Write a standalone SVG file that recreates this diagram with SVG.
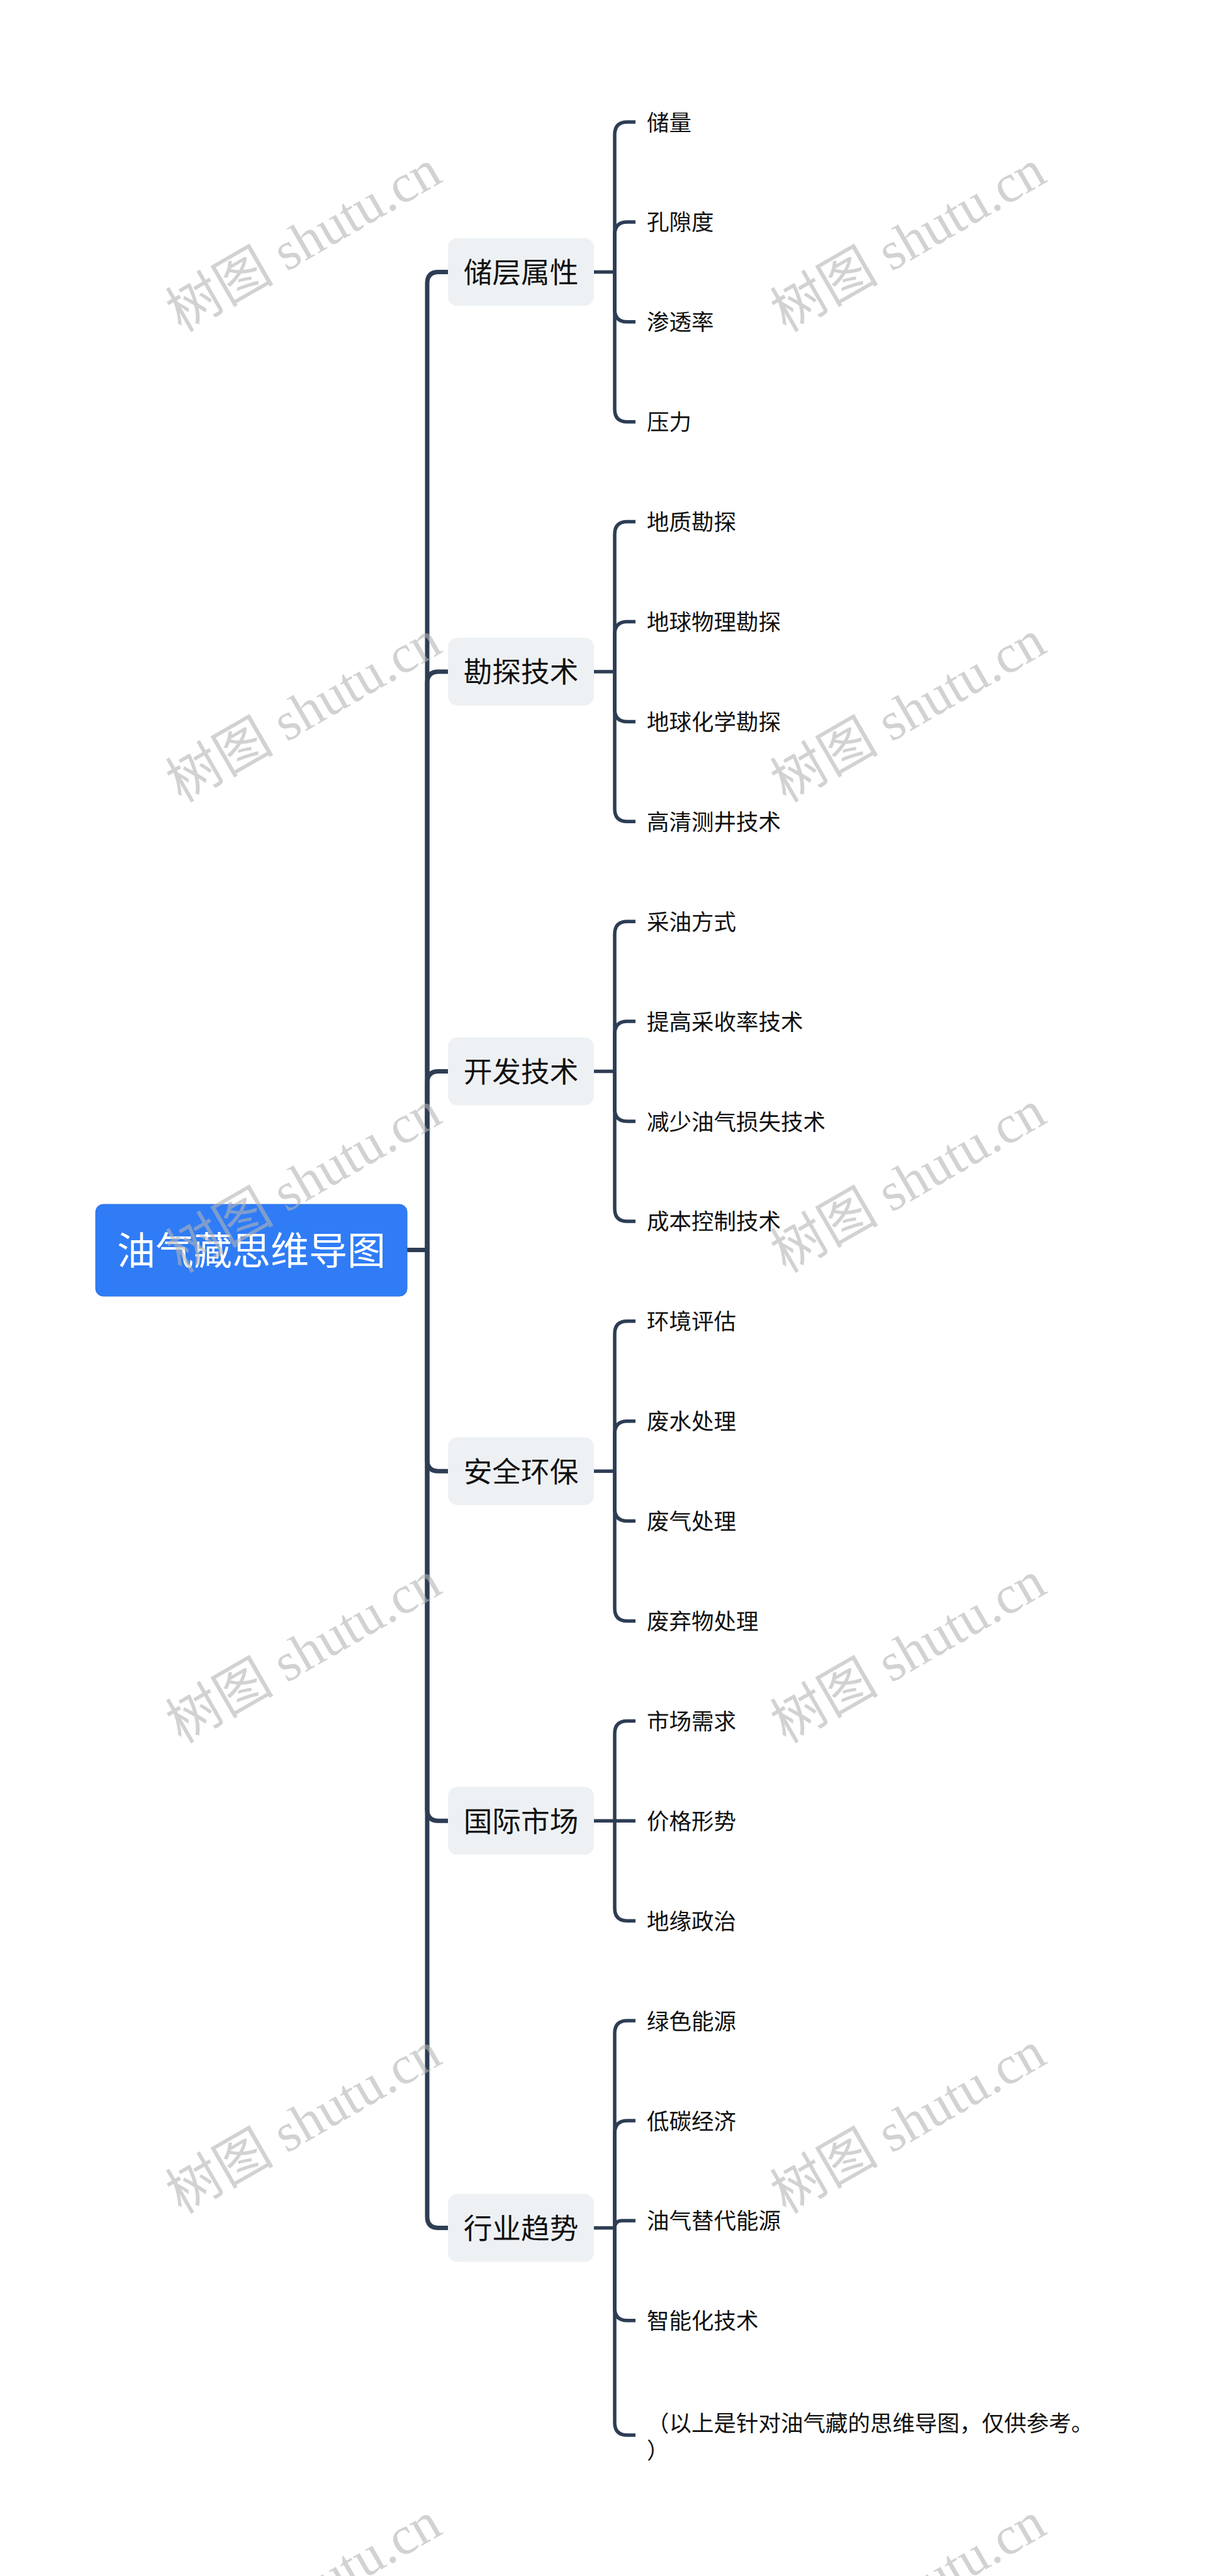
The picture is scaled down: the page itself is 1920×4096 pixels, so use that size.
<svg xmlns="http://www.w3.org/2000/svg" width="1920" height="4096" viewBox="0 0 1920 4096">
<style>
.bg{fill:#ffffff}
.trunk{fill:none;stroke:#2d3d54;stroke-width:7;stroke-linecap:butt}
.sub{fill:none;stroke:#2d3d54;stroke-width:5.5;stroke-linecap:butt}
.root-box{fill:#2f7cf6;stroke:#2a6fe0;stroke-width:1}
.root-text{font-family:"Noto Sans CJK SC","Noto Sans",sans-serif;font-size:61px;fill:#ffffff;text-anchor:middle}
.br-box{fill:#eef1f4}
.br-text{font-family:"Noto Sans CJK SC","Noto Sans",sans-serif;font-size:45.7px;fill:#111111;text-anchor:middle}
.leaf{font-family:"Noto Sans CJK SC","Noto Sans",sans-serif;font-size:35.5px;fill:#111111}
.wm{font-family:"Liberation Serif","Noto Sans CJK SC",serif;font-size:86px;fill:#b4b4b4;fill-opacity:0.6;text-anchor:middle}
</style>
<rect class="bg" x="0" y="0" width="1920" height="4096"/>

<g id="connectors">
  <path class="trunk" d="M647,1987.5 H679"/>
  <path class="trunk" d="M679,1987.5 V450.4 Q679,432.4 697,432.4 H712"/>
  <path class="trunk" d="M679,1987.5 V1086 Q679,1068 697,1068 H712"/>
  <path class="trunk" d="M679,1987.5 V1721.6 Q679,1703.6 697,1703.6 H712"/>
  <path class="trunk" d="M679,1987.5 V2321.2 Q679,2339.2 697,2339.2 H712"/>
  <path class="trunk" d="M679,1987.5 V2877.3 Q679,2895.3 697,2895.3 H712"/>
  <path class="trunk" d="M679,1987.5 V3524.6 Q679,3542.6 697,3542.6 H712"/>

  <path class="sub" d="M944,432.4 H977"/>
  <path class="sub" d="M977,432.4 V214 Q977,194 997,194 H1010"/>
  <path class="sub" d="M977,432.4 V372.9 Q977,352.9 997,352.9 H1010"/>
  <path class="sub" d="M977,432.4 V491.8 Q977,511.8 997,511.8 H1010"/>
  <path class="sub" d="M977,432.4 V650.7 Q977,670.7 997,670.7 H1010"/>

  <path class="sub" d="M944,1068 H977"/>
  <path class="sub" d="M977,1068 V849.6 Q977,829.6 997,829.6 H1010"/>
  <path class="sub" d="M977,1068 V1008.5 Q977,988.5 997,988.5 H1010"/>
  <path class="sub" d="M977,1068 V1127.4 Q977,1147.4 997,1147.4 H1010"/>
  <path class="sub" d="M977,1068 V1286.3 Q977,1306.3 997,1306.3 H1010"/>

  <path class="sub" d="M944,1703.6 H977"/>
  <path class="sub" d="M977,1703.6 V1485.2 Q977,1465.2 997,1465.2 H1010"/>
  <path class="sub" d="M977,1703.6 V1644.1 Q977,1624.1 997,1624.1 H1010"/>
  <path class="sub" d="M977,1703.6 V1763 Q977,1783 997,1783 H1010"/>
  <path class="sub" d="M977,1703.6 V1921.9 Q977,1941.9 997,1941.9 H1010"/>

  <path class="sub" d="M944,2339.2 H977"/>
  <path class="sub" d="M977,2339.2 V2120.8 Q977,2100.8 997,2100.8 H1010"/>
  <path class="sub" d="M977,2339.2 V2279.7 Q977,2259.7 997,2259.7 H1010"/>
  <path class="sub" d="M977,2339.2 V2398.6 Q977,2418.6 997,2418.6 H1010"/>
  <path class="sub" d="M977,2339.2 V2557.5 Q977,2577.5 997,2577.5 H1010"/>

  <path class="sub" d="M944,2895.3 H1010"/>
  <path class="sub" d="M977,2895.3 V2756.4 Q977,2736.4 997,2736.4 H1010"/>
  <path class="sub" d="M977,2895.3 V3034.2 Q977,3054.2 997,3054.2 H1010"/>

  <path class="sub" d="M944,3542.6 H977"/>
  <path class="sub" d="M977,3542.6 V3233.1 Q977,3213.1 997,3213.1 H1010"/>
  <path class="sub" d="M977,3542.6 V3392 Q977,3372 997,3372 H1010"/>
  <path class="sub" d="M977,3542.6 Q977,3530.9 988.7,3530.9 H1010"/>
  <path class="sub" d="M977,3542.6 V3669.8 Q977,3689.8 997,3689.8 H1010"/>
  <path class="sub" d="M977,3542.6 V3852 Q977,3872 997,3872 H1010"/>
</g>

<g id="root">
  <rect class="root-box" x="152" y="1915" width="495" height="146" rx="12"/>
  <text class="root-text" x="399.5" y="2010.5">油气藏思维导图</text>
</g>

<g id="b1"><rect class="br-box" x="712" y="378.4" width="232" height="108" rx="15"/><text class="br-text" x="828" y="449.8">储层属性</text></g>
<g id="b2"><rect class="br-box" x="712" y="1014" width="232" height="108" rx="15"/><text class="br-text" x="828" y="1085.4">勘探技术</text></g>
<g id="b3"><rect class="br-box" x="712" y="1649.6" width="232" height="108" rx="15"/><text class="br-text" x="828" y="1721">开发技术</text></g>
<g id="b4"><rect class="br-box" x="712" y="2285.2" width="232" height="108" rx="15"/><text class="br-text" x="828" y="2356.6">安全环保</text></g>
<g id="b5"><rect class="br-box" x="712" y="2841.3" width="232" height="108" rx="15"/><text class="br-text" x="828" y="2912.7">国际市场</text></g>
<g id="b6"><rect class="br-box" x="712" y="3488.6" width="232" height="108" rx="15"/><text class="br-text" x="828" y="3560">行业趋势</text></g>

<g id="l0"><text class="leaf" x="1028" y="207.5">储量</text></g>
<g id="l1"><text class="leaf" x="1028" y="366.4">孔隙度</text></g>
<g id="l2"><text class="leaf" x="1028" y="525.3">渗透率</text></g>
<g id="l3"><text class="leaf" x="1028" y="684.2">压力</text></g>
<g id="l4"><text class="leaf" x="1028" y="843.1">地质勘探</text></g>
<g id="l5"><text class="leaf" x="1028" y="1002">地球物理勘探</text></g>
<g id="l6"><text class="leaf" x="1028" y="1160.9">地球化学勘探</text></g>
<g id="l7"><text class="leaf" x="1028" y="1319.8">高清测井技术</text></g>
<g id="l8"><text class="leaf" x="1028" y="1478.7">采油方式</text></g>
<g id="l9"><text class="leaf" x="1028" y="1637.6">提高采收率技术</text></g>
<g id="l10"><text class="leaf" x="1028" y="1796.5">减少油气损失技术</text></g>
<g id="l11"><text class="leaf" x="1028" y="1955.4">成本控制技术</text></g>
<g id="l12"><text class="leaf" x="1028" y="2114.3">环境评估</text></g>
<g id="l13"><text class="leaf" x="1028" y="2273.2">废水处理</text></g>
<g id="l14"><text class="leaf" x="1028" y="2432.1">废气处理</text></g>
<g id="l15"><text class="leaf" x="1028" y="2591">废弃物处理</text></g>
<g id="l16"><text class="leaf" x="1028" y="2749.9">市场需求</text></g>
<g id="l17"><text class="leaf" x="1028" y="2908.8">价格形势</text></g>
<g id="l18"><text class="leaf" x="1028" y="3067.7">地缘政治</text></g>
<g id="l19"><text class="leaf" x="1028" y="3226.6">绿色能源</text></g>
<g id="l20"><text class="leaf" x="1028" y="3385.5">低碳经济</text></g>
<g id="l21"><text class="leaf" x="1028" y="3544.4">油气替代能源</text></g>
<g id="l22"><text class="leaf" x="1028" y="3703.3">智能化技术</text></g>
<g id="l23"><text class="leaf" x="1028" y="3865.5">（以上是针对油气藏的思维导图，仅供参考。</text><text class="leaf" x="1028" y="3908.5">）</text></g>

<g id="watermarks">
  <text class="wm" x="483" y="412" transform="rotate(-30 483 384)">树图 shutu.cn</text>
  <text class="wm" x="1444" y="412" transform="rotate(-30 1444 384)">树图 shutu.cn</text>
  <text class="wm" x="483" y="1160" transform="rotate(-30 483 1132)">树图 shutu.cn</text>
  <text class="wm" x="1444" y="1160" transform="rotate(-30 1444 1132)">树图 shutu.cn</text>
  <text class="wm" x="483" y="1908" transform="rotate(-30 483 1880)">树图 shutu.cn</text>
  <text class="wm" x="1444" y="1908" transform="rotate(-30 1444 1880)">树图 shutu.cn</text>
  <text class="wm" x="483" y="2656" transform="rotate(-30 483 2628)">树图 shutu.cn</text>
  <text class="wm" x="1444" y="2656" transform="rotate(-30 1444 2628)">树图 shutu.cn</text>
  <text class="wm" x="483" y="3404" transform="rotate(-30 483 3376)">树图 shutu.cn</text>
  <text class="wm" x="1444" y="3404" transform="rotate(-30 1444 3376)">树图 shutu.cn</text>
  <text class="wm" x="483" y="4152" transform="rotate(-30 483 4124)">树图 shutu.cn</text>
  <text class="wm" x="1444" y="4152" transform="rotate(-30 1444 4124)">树图 shutu.cn</text>
</g>
</svg>
